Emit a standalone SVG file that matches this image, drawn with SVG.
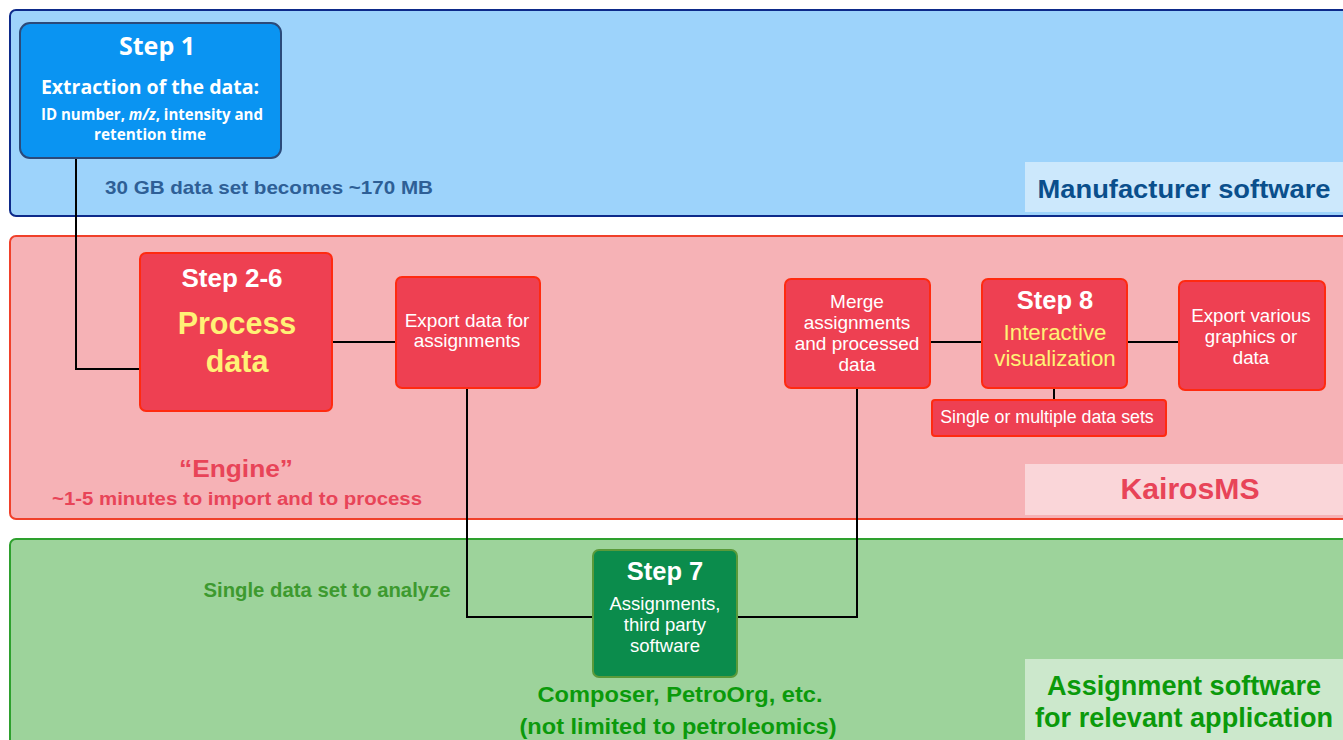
<svg xmlns="http://www.w3.org/2000/svg" width="1343" height="740" viewBox="0 0 1343 740">
<style>
text{font-family:"Liberation Sans",Arial,sans-serif;text-anchor:middle}
.b{font-weight:bold}
.w{fill:#ffffff}
.os{font-family:"Open Sans","Liberation Sans",sans-serif}
.rn{fill:#ee4052;stroke:#ff2a10;stroke-width:2}
.conn{fill:none;stroke:#000;stroke-width:2}
</style>
<rect width="1343" height="740" fill="#ffffff"/>
<!-- bands -->
<g id="band-manufacturer">
<rect x="10" y="10" width="1345" height="206" rx="6" fill="#9dd3fb" stroke="#0d2a8a" stroke-width="2"/>
<rect x="1025" y="162" width="318" height="50" fill="#cce8fc"/>
<text x="1184" y="198" class="b" font-size="26" fill="#0a4f8c" textLength="293" lengthAdjust="spacingAndGlyphs">Manufacturer software</text>
<text x="269" y="194" class="b" font-size="19" fill="#2e5f96" textLength="328" lengthAdjust="spacingAndGlyphs">30 GB data set becomes ~170 MB</text>
</g>
<g id="band-kairos">
<rect x="10" y="236" width="1345" height="283" rx="6" fill="#f6b2b6" stroke="#f0402a" stroke-width="2"/>
<rect x="1025" y="464" width="318" height="51" fill="#fad6d9"/>
<text x="1190" y="499" class="b" font-size="30" fill="#e84458" textLength="139" lengthAdjust="spacingAndGlyphs">KairosMS</text>
<text x="236" y="477" class="b" font-size="24.5" fill="#e84458" textLength="114" lengthAdjust="spacingAndGlyphs">“Engine”</text>
<text x="237" y="505" class="b" font-size="18" fill="#e84458" textLength="370" lengthAdjust="spacingAndGlyphs">~1-5 minutes to import and to process</text>
</g>
<g id="band-assignment">
<rect x="10" y="539" width="1345" height="215" rx="6" fill="#9dd39b" stroke="#2ea02e" stroke-width="2"/>
<rect x="1025" y="659" width="318" height="81" fill="#cce8cc"/>
<text x="1184" y="695" class="b" font-size="27" fill="#0b9a0b" textLength="274" lengthAdjust="spacingAndGlyphs">Assignment software</text>
<text x="1184" y="727" class="b" font-size="27" fill="#0b9a0b" textLength="298" lengthAdjust="spacingAndGlyphs">for relevant application</text>
<text x="327" y="597" class="b" font-size="20.5" fill="#3d9a2f" textLength="247" lengthAdjust="spacingAndGlyphs">Single data set to analyze</text>
<text x="680" y="702" class="b" font-size="22" fill="#0b9a0b" textLength="285" lengthAdjust="spacingAndGlyphs">Composer, PetroOrg, etc.</text>
<text x="678" y="734" class="b" font-size="22" fill="#0b9a0b" textLength="317" lengthAdjust="spacingAndGlyphs">(not limited to petroleomics)</text>
</g>
<!-- connectors -->
<g id="connectors">
<polyline class="conn" points="76,158 76,369 140,369"/>
<line class="conn" x1="332" y1="342" x2="396" y2="342"/>
<polyline class="conn" points="467,388 467,617 593,617"/>
<polyline class="conn" points="857,388 857,617 737,617"/>
<line class="conn" x1="930" y1="342" x2="982" y2="342"/>
<line class="conn" x1="1127" y1="342" x2="1179" y2="342"/>
<line class="conn" x1="1054" y1="388" x2="1054" y2="400"/>
</g>
<!-- nodes -->
<g id="step1">
<rect x="20" y="23" width="261" height="135" rx="10" fill="#0a94f2" stroke="#2b4a7a" stroke-width="2"/>
<text x="157" y="55" class="b w os" font-size="25">Step 1</text>
<text x="150" y="94" class="b w os" font-size="19.5">Extraction of the data:</text>
<text x="152" y="120" class="b w os" font-size="15.3" textLength="222" lengthAdjust="spacingAndGlyphs">ID number, <tspan font-style="italic">m/z</tspan>, intensity and</text>
<text x="150" y="140" class="b w os" font-size="15.3">retention time</text>
</g>
<g id="step2-6">
<rect class="rn" x="140" y="253" width="192" height="158" rx="6"/>
<text x="232" y="287" class="b w" font-size="26">Step 2-6</text>
<text x="237" y="334" class="b" font-size="30.5" fill="#fff176">Process</text>
<text x="237" y="372" class="b" font-size="30.5" fill="#fff176">data</text>
</g>
<g id="export-assign">
<rect class="rn" x="396" y="277" width="144" height="111" rx="6"/>
<text x="467" y="327" class="w" font-size="19">Export data for</text>
<text x="467" y="347" class="w" font-size="19">assignments</text>
</g>
<g id="merge">
<rect class="rn" x="785" y="279" width="145" height="109" rx="6"/>
<text x="857" y="308" class="w" font-size="19">Merge</text>
<text x="857" y="329" class="w" font-size="19">assignments</text>
<text x="857" y="350" class="w" font-size="19">and processed</text>
<text x="857" y="371" class="w" font-size="19">data</text>
</g>
<g id="step8">
<rect class="rn" x="982" y="279" width="145" height="109" rx="6"/>
<text x="1055" y="309" class="b w" font-size="25.5">Step 8</text>
<text x="1055" y="340" font-size="22.3" fill="#fff176">Interactive</text>
<text x="1055" y="366" font-size="22.3" fill="#fff176">visualization</text>
</g>
<g id="export-various">
<rect class="rn" x="1179" y="281" width="146" height="109" rx="6"/>
<text x="1251" y="322" class="w" font-size="18.7">Export various</text>
<text x="1251" y="343" class="w" font-size="18.7">graphics or</text>
<text x="1251" y="364" class="w" font-size="18.7">data</text>
</g>
<g id="datasets">
<rect class="rn" x="932" y="400" width="234" height="36" rx="3"/>
<text x="1047" y="423" class="w" font-size="17.8">Single or multiple data sets</text>
</g>
<g id="step7">
<rect x="593" y="550" width="144" height="127" rx="6" fill="#0b8c4c" stroke="#5a9a3a" stroke-width="2"/>
<text x="665" y="580" class="b w" font-size="25.5">Step 7</text>
<text x="665" y="610" class="w" font-size="18.5">Assignments,</text>
<text x="665" y="631" class="w" font-size="18.5">third party</text>
<text x="665" y="652" class="w" font-size="18.5">software</text>
</g>
</svg>
